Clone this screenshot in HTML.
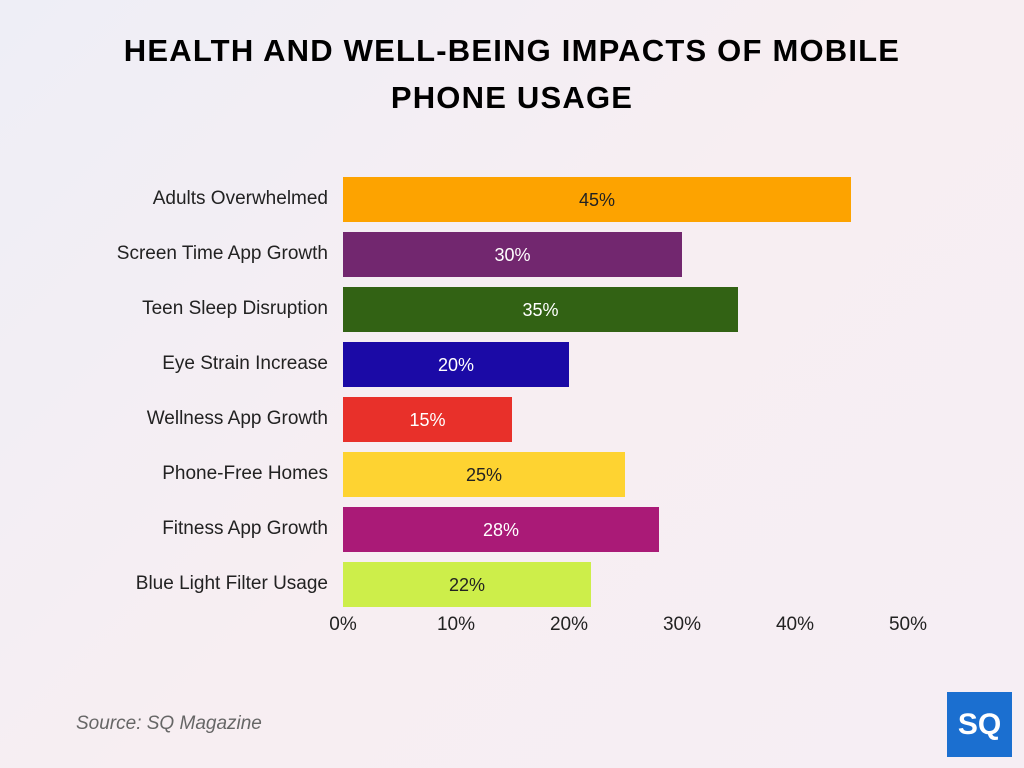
<!DOCTYPE html>
<html><head><meta charset="utf-8"><style>
body{margin:0;width:1024px;height:768px;overflow:hidden;font-family:"Liberation Sans",sans-serif;background:linear-gradient(135deg,#eeeef6 0%,#f7eef2 50%,#f6eef4 100%);position:relative}
.t{position:absolute;left:0;width:1024px;text-align:center;font-weight:900;font-size:31px;color:#000;letter-spacing:1.2px}
.lab{position:absolute;right:696px;font-size:19px;color:#222;text-align:right;white-space:nowrap}
.bar{position:absolute;left:343px;height:45px;color:#fff;font-size:18px;text-align:center;line-height:47px}
.tk{position:absolute;top:614px;font-size:19px;color:#222;width:60px;text-align:center}
</style></head><body>
<div class="t" style="top:33px">HEALTH AND WELL-BEING IMPACTS OF MOBILE</div>
<div class="t" style="top:80px">PHONE USAGE</div>

<div class="lab" style="top:188px">Adults Overwhelmed</div>
<div class="lab" style="top:243px">Screen Time App Growth</div>
<div class="lab" style="top:298px">Teen Sleep Disruption</div>
<div class="lab" style="top:353px">Eye Strain Increase</div>
<div class="lab" style="top:408px">Wellness App Growth</div>
<div class="lab" style="top:463px">Phone-Free Homes</div>
<div class="lab" style="top:518px">Fitness App Growth</div>
<div class="lab" style="top:573px">Blue Light Filter Usage</div>

<div class="bar" style="top:177px;width:508px;background:#fda300;color:#222">45%</div>
<div class="bar" style="top:232px;width:339px;background:#72276f">30%</div>
<div class="bar" style="top:287px;width:395px;background:#326214">35%</div>
<div class="bar" style="top:342px;width:226px;background:#1b0aa6">20%</div>
<div class="bar" style="top:397px;width:169px;background:#e8302a">15%</div>
<div class="bar" style="top:452px;width:282px;background:#fed331;color:#222">25%</div>
<div class="bar" style="top:507px;width:316px;background:#aa1a77">28%</div>
<div class="bar" style="top:562px;width:248px;background:#cdee4a;color:#222">22%</div>

<div class="tk" style="left:313px">0%</div>
<div class="tk" style="left:426px">10%</div>
<div class="tk" style="left:539px">20%</div>
<div class="tk" style="left:652px">30%</div>
<div class="tk" style="left:765px">40%</div>
<div class="tk" style="left:878px">50%</div>

<div style="position:absolute;left:76px;top:713px;font-size:19px;font-style:italic;color:#666">Source: SQ Magazine</div>
<div style="position:absolute;left:947px;top:692px;width:65px;height:65px;background:#1b6fd0;color:#fff;font-weight:900;font-size:30px;line-height:65px;text-align:center">SQ</div>
</body></html>
